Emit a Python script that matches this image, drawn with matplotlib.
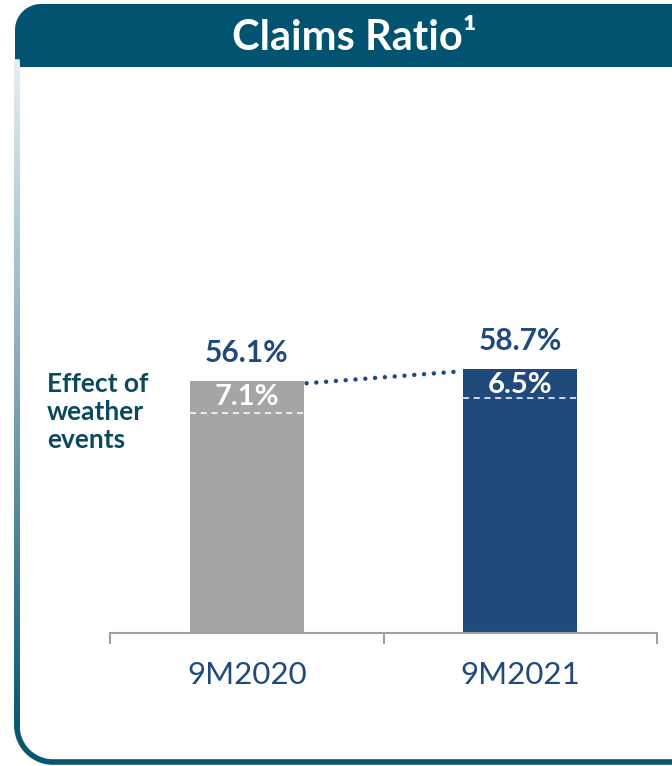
import numpy as np
import matplotlib.pyplot as plt
from matplotlib.collections import LineCollection
from matplotlib.patches import Polygon
from matplotlib.colors import LinearSegmentedColormap

# %% Style
FONT = "Lato"
NAVY = "#204A7C"
GRAY = "#A5A5A5"
TEAL = "#02536F"
TEXT_TEAL = "#0B4A5E"
AXIS_GRAY = "#A0A0A0"
EDGE_DARK = "#0A5670"

plt.rcParams.update({"font.family": FONT})

# %% Data
periods = ["9M2020", "9M2021"]
claims_ratio = [56.1, 58.7]
weather_effect = [7.1, 6.5]
bar_colors = [GRAY, NAVY]
label_colors = [NAVY, NAVY]

W, H = 672, 766
fig = plt.figure(figsize=(W / 100, H / 100), dpi=100)

# %% Frame (pixel coordinates)
bg = fig.add_axes([0, 0, 1, 1])
bg.set_xlim(0, W)
bg.set_ylim(H, 0)
bg.axis("off")

# left border with vertical gradient
r = 36
ys = np.linspace(62, 762 - r, 200)
pts = np.column_stack([np.full_like(ys, 17), ys]).reshape(-1, 1, 2)
segs = np.concatenate([pts[:-1], pts[1:]], axis=1)
cmap = LinearSegmentedColormap.from_list("edge", ["#E6EEF2", "#7FA4B5", EDGE_DARK])
lc = LineCollection(segs, cmap=cmap, linewidths=4, capstyle="projecting")
lc.set_array((ys[:-1] - 62) / (762 - r - 62))
lc.set_clim(0, 1)
bg.add_collection(lc)

# rounded corner + bottom edge
t = np.linspace(np.pi, np.pi / 2, 40)
cx = np.concatenate([17 + r + r * np.cos(t), [W + 5]])
cy = np.concatenate([762 - r + r * np.sin(t), [762]])
bg.plot(cx, cy, color=EDGE_DARK, lw=4, solid_capstyle="butt")

# title band with rounded top-left corner
rb = 26
tb = np.linspace(np.pi, 1.5 * np.pi, 30)
band = np.vstack([
    [[15, 67]],
    np.column_stack([15 + rb + rb * np.cos(tb), 4 + rb + rb * np.sin(tb)]),
    [[W + 5, 4], [W + 5, 67]],
])
bg.add_patch(Polygon(band, closed=True, facecolor=TEAL, edgecolor="none"))
bg.text(354, 38, "Claims Ratio¹", color="white", fontsize=30, fontweight="bold",
        ha="center", va="center")

bg.text(47, 412, "Effect of\nweather\nevents", color=TEXT_TEAL, fontsize=19,
        fontweight="bold", ha="left", va="center", linespacing=1.22)

# %% Bars
ax = fig.add_axes([110 / W, (H - 633) / H, 547 / W, 513 / H])
ax.set_xlim(0, 2)
ax.set_ylim(0, 114)
ax.patch.set_alpha(0)
for s in ["top", "right", "left"]:
    ax.spines[s].set_visible(False)
ax.spines["bottom"].set_color(AXIS_GRAY)
ax.spines["bottom"].set_linewidth(1.5)
ax.set_yticks([])

x = np.array([0.5, 1.5])
bw = 0.417
ax.bar(x, claims_ratio, width=bw, color=bar_colors, zorder=2)

for xi, total, weather, lc_ in zip(x, claims_ratio, weather_effect, label_colors):
    ax.annotate(f"{total}%", (xi, total), xytext=(0, 10), textcoords="offset points",
                ha="center", va="bottom", fontsize=21.5, fontweight="bold", color=lc_)
    ax.annotate(f"{weather}%", (xi, total), xytext=(0, -11.5), textcoords="offset points",
                ha="center", va="center", fontsize=21, fontweight="bold", color="white",
                zorder=4)
    ax.plot([xi - bw / 2, xi + bw / 2], [total - weather] * 2, color="white",
            lw=1.1, ls=(0, (4, 3)), zorder=3)

# dotted connector
ax.plot([x[0] + bw / 2 + 0.01, x[1] - bw / 2 - 0.02],
        [claims_ratio[0] - 0.6, claims_ratio[1] - 0.6],
        color=NAVY, lw=3.2, ls=(0, (0.01, 2.2)), dash_capstyle="round",
        solid_capstyle="round", zorder=3)

ax.set_xticks([0, 1, 2])
ax.set_xticklabels([])
ax.tick_params(axis="x", direction="out", length=8, width=1.5, color=AXIS_GRAY)
ax.set_xticks(x, minor=True)
ax.set_xticklabels(periods, minor=True)
ax.tick_params(axis="x", which="minor", length=0, pad=20, labelsize=22.5,
               labelcolor=NAVY)

fig.savefig("out.png", dpi=100)
